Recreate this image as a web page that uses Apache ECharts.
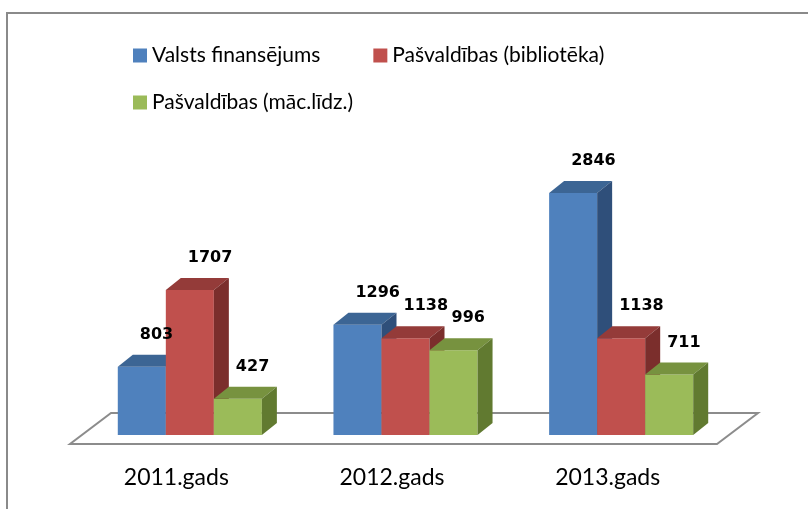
<!DOCTYPE html>
<html>
<head>
<meta charset="utf-8">
<script src="https://cdn.jsdelivr.net/npm/echarts@6/dist/echarts.min.js"></script>
<style>
  html, body { margin: 0; padding: 0; background: #fff; }
  #chart { width: 808px; height: 509px; }
</style>
</head>
<body>
<div id="chart"></div>
<script>
  // dati
  const categories = ['2011.gads', '2012.gads', '2013.gads'];
  const seriesNames = ['Valsts finansējums', 'Pašvaldības (bibliotēka)', 'Pašvaldības (māc.līdz.)'];
  const valsts = [803, 1296, 2846];
  const biblioteka = [1707, 1138, 1138];
  const macLidz = [427, 996, 711];

  // krāsas: priekša, augša, sāni
  const palette = [
    ['#4F81BD', '#3C6594', '#2F4F7A'],
    ['#C0504D', '#943B39', '#7B2E2C'],
    ['#9BBB59', '#77923F', '#617A30']
  ];

  const depthX = 15, depthY = -12;

  // stabiņa ģeometrija kategorijas iekšienē
  function barBox(si, api) {
    const idx = api.value(0), val = api.value(1);
    const base = api.coord([idx, 0]);
    const peak = api.coord([idx, val]);
    const w = api.size([1, 0])[0] * 0.2227;
    const x0 = base[0] - 1.5 * w + si * w;
    return { x0: x0, x1: x0 + w, w: w, yt: peak[1], yb: base[1], val: val };
  }

  function barSeries(si, values) {
    const c = palette[si];
    return {
      name: seriesNames[si],
      type: 'custom',
      itemStyle: { color: c[0] },
      data: values.map((v, i) => [i, v]),
      renderItem(params, api) {
        const b = barBox(si, api);
        return {
          type: 'group',
          children: [
            { type: 'rect', shape: { x: b.x0, y: b.yt, width: b.w, height: b.yb - b.yt }, style: { fill: c[0] } },
            { type: 'polygon', shape: { points: [[b.x0, b.yt], [b.x1, b.yt], [b.x1 + depthX, b.yt + depthY], [b.x0 + depthX, b.yt + depthY]] }, style: { fill: c[1] } },
            { type: 'polygon', shape: { points: [[b.x1, b.yt], [b.x1 + depthX, b.yt + depthY], [b.x1 + depthX, b.yb + depthY], [b.x1, b.yb]] }, style: { fill: c[2] } }
          ]
        };
      }
    };
  }

  // vērtību uzraksti - atsevišķi, lai būtu virs visiem stabiņiem
  function labelSeries(si, values) {
    return {
      type: 'custom', z: 5, silent: true,
      data: values.map((v, i) => [i, v]),
      renderItem(params, api) {
        const b = barBox(si, api);
        return {
          type: 'text', x: b.x0 + b.w / 2 - 2, y: b.yt - 32,
          style: {
            text: String(b.val), font: 'bold 16px "DejaVu Sans"', fill: '#000',
            align: 'left', verticalAlign: 'middle', textAlign: 'left', textVerticalAlign: 'middle'
          }
        };
      }
    };
  }

  const chart = echarts.init(document.getElementById('chart'));
  chart.setOption({
    animation: false,
    backgroundColor: '#fff',
    graphic: [{
      type: 'rect', shape: { x: 7, y: 13, width: 840, height: 540 },
      style: { fill: 'none', stroke: '#8a8a8a', lineWidth: 2 }, silent: true
    }],
    legend: [
      {
        data: seriesNames.slice(0, 2), left: 133, top: 45, padding: 0, itemGap: 53,
        itemWidth: 14, itemHeight: 14, icon: 'rect',
        textStyle: { fontFamily: 'Lato', fontSize: 21, color: '#000' }
      },
      {
        data: seriesNames.slice(2), left: 133, top: 92, padding: 0,
        itemWidth: 14, itemHeight: 14, icon: 'rect',
        textStyle: { fontFamily: 'Lato', fontSize: 21, color: '#000' }
      }
    ],
    grid: { left: 82, right: 79, top: 180, bottom: 74 },
    xAxis: {
      type: 'category', data: categories,
      axisLine: { show: false }, axisTick: { show: false },
      axisLabel: { margin: 31, fontFamily: 'Lato', fontSize: 23, color: '#000', padding: [0, 27, 0, 0] }
    },
    yAxis: { type: 'value', min: 0, max: 3000, show: false, splitLine: { show: false } },
    series: [
      {
        type: 'custom', silent: true, data: [[0]],
        renderItem(params, api) {
          const cs = params.coordSys;
          const by = cs.y + cs.height;
          return {
            type: 'polygon',
            shape: { points: [[cs.x - 12, by + 9], [cs.x + cs.width - 12, by + 9], [cs.x + cs.width + 29, by - 22], [cs.x + 29, by - 22]] },
            style: { fill: '#fff', stroke: '#8c8c8c', lineWidth: 2 }
          };
        }
      },
      barSeries(0, valsts),
      barSeries(1, biblioteka),
      barSeries(2, macLidz),
      labelSeries(0, valsts),
      labelSeries(1, biblioteka),
      labelSeries(2, macLidz)
    ]
  });
</script>
</body>
</html>
